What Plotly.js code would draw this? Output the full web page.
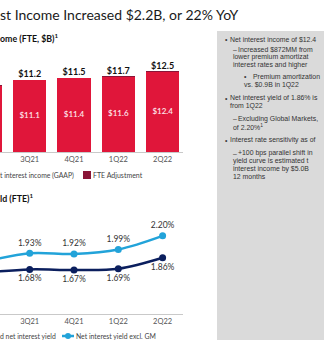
<!DOCTYPE html>
<html><head><meta charset="utf-8">
<script src="https://cdn.plot.ly/plotly-3.0.1.min.js"></script>
<style>html,body{margin:0;padding:0;background:#fff;overflow:hidden}#chart{width:324px;height:345px;}</style>
</head><body><div id="chart"></div>
<script>
// ---- data ----
const quarters = ['2Q21', '3Q21', '4Q21', '1Q22', '2Q22'];
const niiGaap = [10.2, 11.1, 11.4, 11.6, 12.4];
const fteAdj = [0.1, 0.1, 0.1, 0.1, 0.1];
const niyReported = [1.63, 1.68, 1.67, 1.69, 1.86];
const niyExGM = [1.80, 1.93, 1.92, 1.99, 2.20];
const titleText = 'st Income Increased $2.2B, or 22% YoY';
const barTitle = 'ome (FTE, $B)<sup>1</sup>';
const lineTitle = 'ld (FTE)<sup>1</sup>';
const barLegend = ['t interest income (GAAP)', 'FTE Adjustment'];
const lineLegend = ['d net interest yield', 'Net interest yield excl. GM'];
// b = bullet line, d = dash line, c = continuation; digit = indent level
const boxLines = [
  ['b0', 'Net interest income of $12.4'],
  ['d1', 'Increased $872MM from'],
  ['c1', 'lower premium amortizat'],
  ['c1', 'interest rates and higher'],
  ['b2', 'Premium amortization'],
  ['c2', 'vs. $0.9B in 1Q22'],
  ['b0', 'Net interest yield of 1.86% is'],
  ['c0', 'from 1Q22'],
  ['d1', 'Excluding Global Markets,'],
  ['c1', 'of 2.20%<sup>1</sup>'],
  ['b0', 'Interest rate sensitivity as of'],
  ['d1', '+100 bps parallel shift in'],
  ['c1', 'yield curve is estimated t'],
  ['c1', 'interest income by $5.0B'],
  ['c1', '12 months']
];
const boxLineY = [39, 49.5, 57.3, 65.1, 77, 84.8, 98, 105.8, 119, 126.8, 140, 153, 160.8, 168.6, 176.4];

// ---- helpers ----
const W = 324, H = 345;
const px = x => x / W;
const py = y => 1 - y / H;
const FONT = 'Lato, "Open Sans", sans-serif';
const BOXFONT = '"Liberation Sans", Arial, sans-serif';
const totals = niiGaap.map((v, i) => +(v + fteAdj[i]).toFixed(1));
const shown = arr => arr.slice(1);          // first quarter lies outside the visible crop
const q = shown(quarters);

// fit a text's font size so it stays inside a given width
const cvs = document.createElement('canvas').getContext('2d');
function fit(text, maxW, base, family, weight) {
  const plain = text.replace(/<sup>(.*?)<\/sup>/g, '$1').replace(/<[^>]+>/g, '');
  cvs.font = (weight || 400) + ' ' + base + 'px ' + (family || FONT);
  const w = cvs.measureText(plain).width;
  return w > maxW ? Math.floor(base * maxW / w * 100) / 100 : base;
}

const RED = '#E0163A', DARKRED = '#8A1538', NAVY = '#0B1F5E', CYAN = '#22A3D9';

const traces = [
  {type: 'bar', x: quarters, y: niiGaap, xaxis: 'x', yaxis: 'y', width: 0.75,
   marker: {color: RED}, hoverinfo: 'skip'},
  {type: 'bar', x: quarters, y: fteAdj, xaxis: 'x', yaxis: 'y', width: 0.75,
   marker: {color: DARKRED}, hoverinfo: 'skip'},
  // GAAP values inside bars (middle of the GAAP segment)
  {type: 'scatter', mode: 'text', x: q, y: shown(niiGaap).map(v => v / 2), xaxis: 'x', yaxis: 'y',
   text: shown(niiGaap).map(v => '$' + v.toFixed(1)), textposition: 'middle center',
   textfont: {family: FONT, size: 8, color: '#fde6ea', weight: 600}, hoverinfo: 'skip'},
  // totals above bars
  {type: 'scatter', mode: 'text', x: q, y: shown(totals), xaxis: 'x', yaxis: 'y',
   text: shown(totals).map(v => '$' + v.toFixed(1)), textposition: 'top center',
   textfont: {family: FONT, size: 9, color: '#111', weight: 700}, hoverinfo: 'skip'},
  {type: 'scatter', mode: 'lines+markers', x: quarters, y: niyReported, xaxis: 'x2', yaxis: 'y2',
   line: {color: NAVY, width: 2.5, shape: 'spline'}, marker: {color: NAVY, size: 7}, hoverinfo: 'skip'},
  {type: 'scatter', mode: 'lines+markers', x: quarters, y: niyExGM, xaxis: 'x2', yaxis: 'y2',
   line: {color: CYAN, width: 2.5, shape: 'spline'}, marker: {color: CYAN, size: 7}, hoverinfo: 'skip'},
  {type: 'scatter', mode: 'markers+text', x: q, y: shown(niyReported), xaxis: 'x2', yaxis: 'y2',
   marker: {size: 7, opacity: 0}, text: shown(niyReported).map(v => v.toFixed(2) + '%'),
   textposition: 'bottom center', textfont: {family: FONT, size: 8.5, color: '#333'}, hoverinfo: 'skip'},
  {type: 'scatter', mode: 'markers+text', x: q, y: shown(niyExGM), xaxis: 'x2', yaxis: 'y2',
   marker: {size: 7, opacity: 0}, text: shown(niyExGM).map(v => v.toFixed(2) + '%'),
   textposition: 'top center', textfont: {family: FONT, size: 8.5, color: '#333'}, hoverinfo: 'skip'}
];

const xdom = [0, px(183)];
const xrange = [0.33, 4.46];
const axisBase = {type: 'category', categoryarray: quarters, categoryorder: 'array',
  tickmode: 'array', tickvals: q, ticktext: q,
  range: xrange, domain: xdom, showgrid: false, zeroline: false,
  showline: true, linecolor: '#c9c9c9', linewidth: 1, ticks: '', fixedrange: true,
  tickfont: {family: FONT, size: 7.5, color: '#555'}};

const annotations = [];
function ann(x, y, text, opts) {
  annotations.push(Object.assign({xref: 'paper', yref: 'paper', x: px(x), y: py(y), text: text,
    showarrow: false, xanchor: 'left', yanchor: 'middle', align: 'left', borderpad: 0, borderwidth: 0,
    font: {family: BOXFONT, size: 6.9, color: '#3a3a3a'}}, opts || {}));
}
ann(0, 14, titleText, {font: {family: FONT, size: fit(titleText, 256, 14), color: '#1a1a1a'}});
ann(0, 38, barTitle, {font: {family: FONT, size: 8.8, color: '#111', weight: 700}});
ann(0, 198, lineTitle, {font: {family: FONT, size: 8.8, color: '#111', weight: 700}});
ann(0, 175, barLegend[0], {font: {family: FONT, size: fit(barLegend[0], 74, 7), color: '#444'}});
ann(93, 175, barLegend[1], {font: {family: FONT, size: 7, color: '#444'}});
ann(0, 336, lineLegend[0], {font: {family: FONT, size: fit(lineLegend[0], 56, 7), color: '#444'}});
ann(76, 336, lineLegend[1], {font: {family: FONT, size: fit(lineLegend[1], 80, 7), color: '#444'}});

const markX = {b: {0: 225, 2: 244}, d: {1: 233}};
const textX = {b: {0: 230, 2: 252.5}, d: {1: 238}, c: {0: 230, 1: 233, 2: 244}};
boxLines.forEach((ln, i) => {
  const kind = ln[0][0], lvl = +ln[0][1];
  const y = boxLineY[i];
  if (kind === 'b') ann(markX.b[lvl], y, '•');
  if (kind === 'd') ann(markX.d[lvl], y, '–');
  const x = textX[kind][lvl];
  ann(x, y, ln[1], {font: {family: BOXFONT, size: fit(ln[1], 323 - x, 6.9, BOXFONT), color: '#333'}});
});

const shapes = [
  {type: 'rect', xref: 'paper', yref: 'paper', x0: px(217), x1: 1.02, y0: py(340), y1: py(31),
   fillcolor: '#DADADA', line: {width: 0}, layer: 'below'},
  {type: 'rect', xref: 'paper', yref: 'paper', x0: px(83), x1: px(91), y0: py(179), y1: py(171),
   fillcolor: DARKRED, line: {width: 0}},
  {type: 'line', xref: 'paper', yref: 'paper', x0: px(62), x1: px(74), y0: py(336), y1: py(336),
   line: {color: CYAN, width: 2.5}},
  {type: 'circle', xref: 'paper', yref: 'paper', x0: px(65), x1: px(71), y0: py(339), y1: py(333),
   fillcolor: CYAN, line: {width: 0}}
];

const layout = {
  width: W, height: H, margin: {l: 0, r: 0, t: 0, b: 0, pad: 0},
  paper_bgcolor: '#ffffff', plot_bgcolor: 'rgba(0,0,0,0)',
  showlegend: false, barmode: 'stack', bargap: 0.25,
  font: {family: FONT},
  xaxis: Object.assign({}, axisBase, {anchor: 'y'}),
  yaxis: {domain: [py(152), py(60)], range: [0, 14.22], visible: false, fixedrange: true},
  xaxis2: Object.assign({}, axisBase, {anchor: 'y2'}),
  yaxis2: {domain: [py(314), py(210)], range: [0.99, 2.60], visible: false, fixedrange: true},
  annotations: annotations, shapes: shapes
};

Plotly.newPlot('chart', traces, layout, {staticPlot: true, displayModeBar: false});
</script></body></html>
